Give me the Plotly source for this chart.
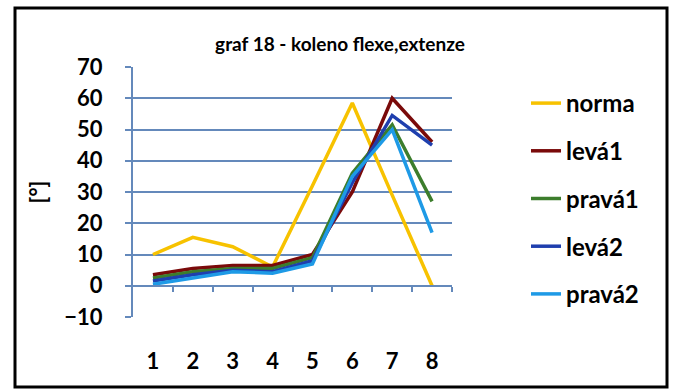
import plotly.graph_objects as go

# Knee flexion/extension angles across 8 measurement phases
phases = [1, 2, 3, 4, 5, 6, 7, 8]
phase_labels = ["1", "2", "3", "4", "5", "6", "7", "8"]

norma = [10, 15.5, 12.5, 6, 32, 58.5, 29, 0]
leva1 = [3.5, 5.5, 6.5, 6.5, 10, 30, 60, 46]
prava1 = [2.5, 4.5, 5.5, 5.5, 9, 36, 51.5, 27]
leva2 = [1.5, 3.5, 5, 4.5, 8, 33, 54.5, 45]
prava2 = [0.5, 2.5, 4.5, 4, 7, 35, 50, 17]

series = [
    ("norma", norma, "#f7c200"),
    ("levá1", leva1, "#7a0a0a"),
    ("pravá1", prava1, "#3c7d2c"),
    ("levá2", leva2, "#1f3fae"),
    ("pravá2", prava2, "#1e9ae6"),
]

y_ticks = [-10, 0, 10, 20, 30, 40, 50, 60, 70]

GRID = "#6489bb"
FONT = "Lato"

fig = go.Figure()
for i, (name, vals, color) in enumerate(series):
    fig.add_trace(go.Scatter(
        x=phases, y=vals, name=name, mode="lines",
        line=dict(color=color, width=3.5),
        legendgroup=f"g{i}",
    ))

# invisible trace that carries the category axis drawn at y = 0
fig.add_trace(go.Scatter(x=[], y=[], xaxis="x2", showlegend=False, hoverinfo="skip"))

W, H = 675, 389
L, R, T, B = 133, 452, 67, 317


def px_x(p):
    return (p - L) / (R - L)


def px_y(p):
    return (B - p) / (B - T)


fig.update_layout(
    width=W, height=H,
    margin=dict(l=L, r=W - R, t=T, b=H - B, pad=0),
    paper_bgcolor="white", plot_bgcolor="white",
    font=dict(family=FONT, size=22, color="black", weight="bold"),
    title=dict(
        text="graf 18 - koleno flexe,extenze",
        font=dict(family=FONT, size=19, color="black", weight="bold"),
        x=340 / W, xanchor="center", y=1 - 44 / H, yanchor="middle",
    ),
    showlegend=True,
    legend=dict(
        x=px_x(526), xanchor="left", y=px_y(81), yanchor="top",
        font=dict(family=FONT, size=24, color="black", weight="bold"),
        tracegroupgap=13.5, bgcolor="rgba(0,0,0,0)", itemwidth=30,
    ),
    xaxis=dict(
        range=[0.5, 8.5], tickvals=phases, ticktext=phase_labels,
        showgrid=False, zeroline=False, showline=False, ticks="",
        ticklabelstandoff=29, tickfont=dict(size=22),
    ),
    xaxis2=dict(
        overlaying="x", anchor="free", position=10 / 80, side="bottom",
        range=[0.5, 8.5], tickvals=[1.5, 2.5, 3.5, 4.5, 5.5, 6.5, 7.5, 8.5],
        showticklabels=False, ticks="outside", ticklen=5, tickwidth=1.5,
        tickcolor=GRID, showline=True, linecolor=GRID, linewidth=2,
        showgrid=False, zeroline=False,
    ),
    yaxis=dict(
        range=[-10, 70], tickvals=y_ticks, showgrid=True, gridcolor=GRID,
        gridwidth=2, zeroline=False, showline=True, linecolor=GRID, linewidth=2,
        ticks="outside", ticklen=6, tickwidth=1.5, tickcolor=GRID,
        ticklabelstandoff=18, tickfont=dict(size=22),
        title=dict(text="[°]", font=dict(size=22), standoff=12),
    ),
)

# outer frame of the chart
fig.add_shape(
    type="rect", xref="paper", yref="paper",
    x0=px_x(15), x1=px_x(667), y0=px_y(387), y1=px_y(8),
    line=dict(color="black", width=3), fillcolor="rgba(0,0,0,0)", layer="above",
)

fig.write_html("out.html")
